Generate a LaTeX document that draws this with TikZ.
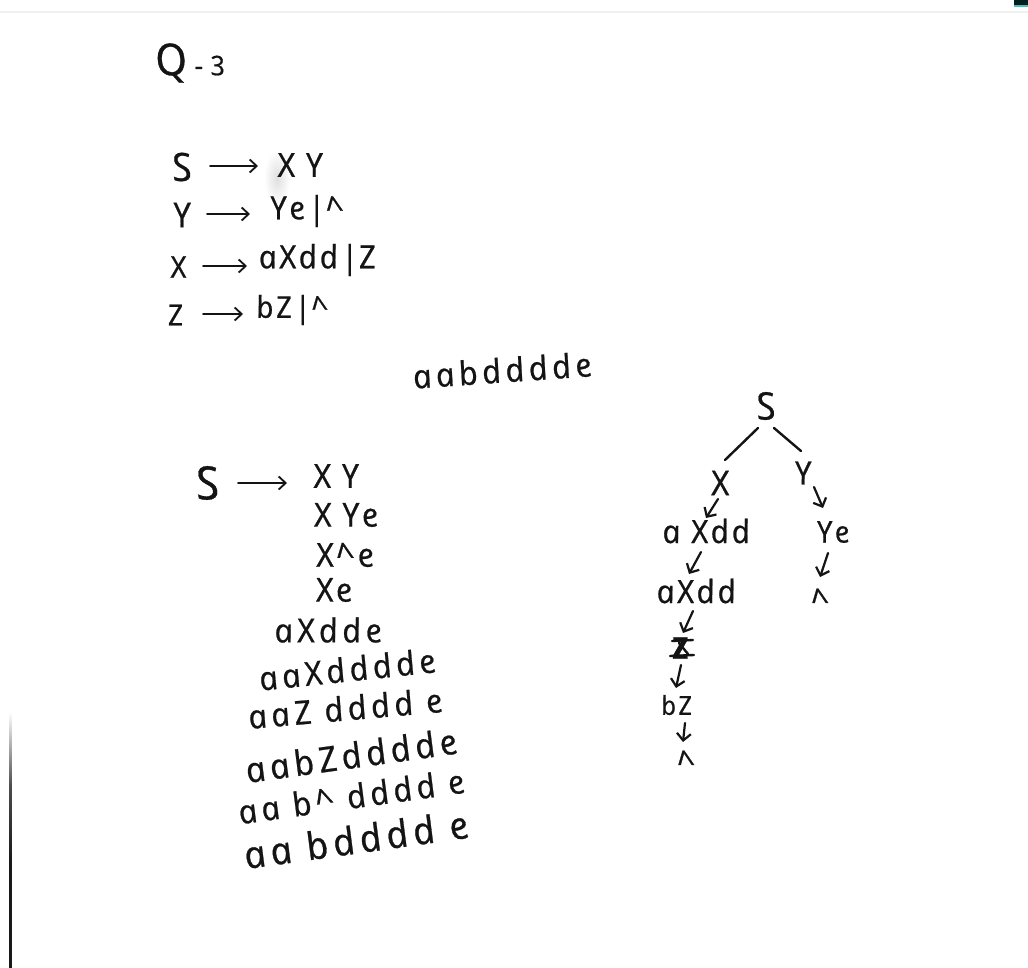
\documentclass[tikz,border=0pt]{standalone}
\usepackage{fontspec}
\usetikzlibrary{arrows.meta}
\setmainfont{Open Sans}
\newfontfamily\handbase[UprightFont=* Italic,FakeSlant=-0.2,FakeBold=0.7,LetterSpace=8]{Open Sans}
\newfontfamily\handwide[UprightFont=* Italic,FakeSlant=-0.2,FakeBold=0.7,LetterSpace=13]{Open Sans}
\newfontfamily\handbar[FakeBold=0.5]{Open Sans}
\newcommand{\vbar}{{\handbar\kern1pt|\kern2pt}}
\definecolor{ink}{HTML}{141414}
\tikzset{
  hw/.style={inner sep=0pt,text=ink,font=\handbase\fontsize{#1}{#1}\selectfont},
  hw/.default=32,
  hwl/.style={inner sep=0pt,text=ink,font=\handwide\fontsize{#1}{#1}\selectfont},
  hwl/.default=33,
  arr/.style={draw=ink,line width=1.8pt,line cap=round,-{Straight Barb[length=7pt,width=13pt,line width=1.8pt]}},
  tarr/.style={draw=ink,line width=2.2pt,line cap=round,-{Straight Barb[length=7pt,width=14pt,line width=2.2pt]}},
  edge/.style={draw=ink,line width=2.4pt,line cap=round},
}
\begin{document}
\begin{tikzpicture}[x=1pt,y=-1pt]
\useasboundingbox (0,0) rectangle (1028,968);
\fill[white] (0,0) rectangle (1028,968);
% scan edges
\fill[gray!12] (0,11.5) rectangle (1028,13);
\fill[black!75!teal] (1014,0) rectangle (1028,5);
\fill[teal!60] (1014,5) rectangle (1028,7);
\shade[top color=white,bottom color=black!90,middle color=black!70] (9,712) rectangle (11.5,860);
\fill[black!90] (9,860) rectangle (11.5,968);
\shade[inner color=gray!25,outer color=white,draw=none] (277,178) ellipse [x radius=13pt,y radius=28pt];
% title
\node[hw=27] (title) at (192,63) {{\fontsize{44}{44}\selectfont Q}\hspace{7pt}-\hspace{7pt}3};
% grammar
\node[hw=39] (gS) at (184,167) {S};
\node[hw=33] (gSr) at (302,165) {X Y};
\node[hw=34] (gY) at (184,215) {Y};
\node[hw=32] (gYr) at (309,211) {Ye\vbar\textasciicircum};
\node[hw=30] (gX) at (180,267) {X};
\node[hw=32] (gXr) at (319,260) {aXdd\vbar Z};
\node[hw=29] (gZ) at (177,315) {Z};
\node[hw=30] (gZr) at (294,310) {bZ\vbar\textasciicircum};
\draw[arr] ([shift={(26,-1)}]gS.center) -- ([shift={(-44,1)}]gSr.center);
\draw[arr] ([shift={(23,-1)}]gY.center) -- ([shift={(-59,3)}]gYr.center);
\draw[arr] ([shift={(23,-1)}]gX.center) -- ([shift={(-72,6)}]gXr.center);
\draw[arr] ([shift={(26,-1)}]gZ.center) -- ([shift={(-51,4)}]gZr.center);
% target string
\node[hwl,rotate=4] (target) at (504,370) {aabdddde};
% derivation
\node[hw=46] (dS) at (210,483) {S};
\node[hw=33] (d1) at (338,476) {X Y};
\node[hw=33] (d2) at (348,515) {X Ye};
\node[hw=33] (d3) at (347,555) {X\textasciicircum e};
\node[hw=33] (d4) at (336,590) {Xe};
\node[hwl] (d5) at (330,630) {aXdde};
\node[hwl,rotate=6] (d6) at (349,669) {aaXdddde};
\node[hwl,rotate=5] (d7) at (347,708) {aaZ dddd e};
\node[hwl=35,rotate=8] (d8) at (353,755) {aabZdddde};
\node[hwl=33,rotate=8] (d9) at (353,796) {aa b\textasciicircum\ dddd e};
\node[hwl=38,rotate=8] (d10) at (358,839) {aa bdddd e};
\draw[arr] ([shift={(28,0)}]dS.center) -- ([shift={(-51,7)}]d1.center);
% parse tree
\node[hw=38] (S) at (768,406) {S};
\node[hw=34] (X) at (722,483) {X};
\node[hw=32] (Y) at (805,473) {Y};
\node[hw=32] (a1) at (708,531) {a Xdd};
\node[hw=30] (Ye) at (835,532) {Ye};
\node[hw=32] (a2) at (698,591) {aXdd};
\node[hw=32] (up1) at (822,600) {\textasciicircum};
\node[hw=30,font=\handbase\bfseries\fontsize{30}{30}\selectfont] (Zs) at (682,648) {Z};
\node[hw=26] (bZ) at (678,705) {bZ};
\node[hw=32] (up2) at (688,762) {\textasciicircum};
\draw[edge] ([shift={(-10,22)}]S.center) -- ([shift={(3,-23)}]X.center);
\draw[edge] ([shift={(6,22)}]S.center) -- ([shift={(-4,-22)}]Y.center);
\draw[tarr] ([shift={(9,14)}]Y.center) -- ([shift={(-12,-24)}]Ye.center);
\draw[tarr] ([shift={(-7,21)}]Ye.center) -- ([shift={(-2,-23)}]up1.center);
\draw[tarr] ([shift={(-4,16)}]X.center) -- ([shift={(-2,-13)}]a1.center);
\draw[tarr] ([shift={(-7,21)}]a1.center) -- ([shift={(-9,-17)}]a2.center);
\draw[tarr] ([shift={(-5,20)}]a2.center) -- ([shift={(1,-15)}]Zs.center);
\draw[tarr] ([shift={(-1,17)}]Zs.center) -- ([shift={(-2,-17)}]bZ.center);
\draw[tarr] ([shift={(7,18)}]bZ.center) -- ([shift={(-5,-20)}]up2.center);
% overwritten Z strokes
\draw[edge] ([shift={(-10,-7)}]Zs.center) -- ([shift={(11,-8)}]Zs.center);
\draw[edge] ([shift={(-12,8)}]Zs.center) -- ([shift={(12,7)}]Zs.center);
\draw[edge] ([shift={(-3,-5)}]Zs.center) -- ([shift={(6,6)}]Zs.center);
\end{tikzpicture}
\end{document}
